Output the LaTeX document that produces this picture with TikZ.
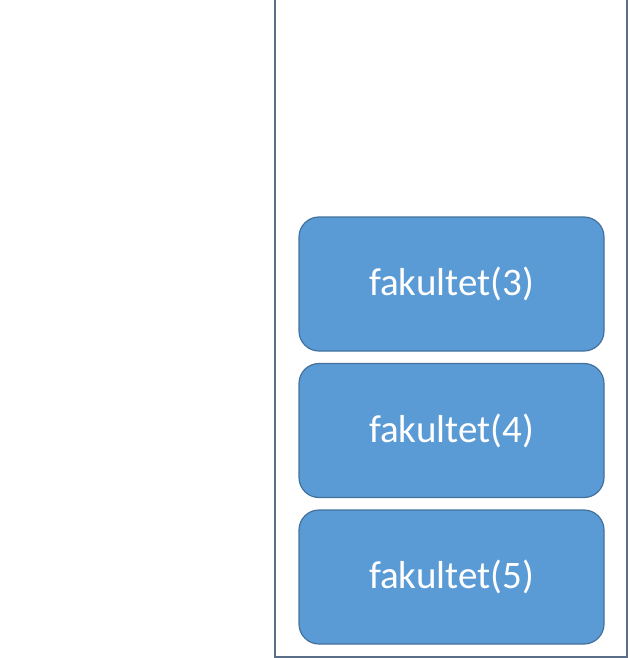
\documentclass[tikz,border=0pt]{standalone}
\usepackage{fontspec}
\setmainfont{Carlito}
\definecolor{boxfill}{HTML}{5B9BD5}
\definecolor{boxline}{HTML}{41719C}
\definecolor{frameline}{HTML}{5A6F87}
\begin{document}
\begin{tikzpicture}[x=1pt,y=-1pt,
  stackbox/.style={draw=boxline, line width=1.2pt, fill=boxfill, rounded corners=20pt,
    minimum width=305pt, minimum height=134pt, text=white, font=\fontsize{39}{44}\selectfont, inner sep=0pt},
  frame/.style={draw=frameline, line width=2pt}]
\useasboundingbox (0,0) rectangle (629,658);
\coordinate (tl) at (275,0);
\coordinate (bl) at (275,657);
\coordinate (br) at (627,657);
\coordinate (tr) at (627,0);
\draw[frame] (tl) -- (bl) -- (br) -- (tr);
\node[stackbox] (f3) at (451.5,284) {fakultet(3)};
\node[stackbox] (f4) at (451.5,430.5) {fakultet(4)};
\node[stackbox] (f5) at (451.5,577) {fakultet(5)};
\end{tikzpicture}
\end{document}
